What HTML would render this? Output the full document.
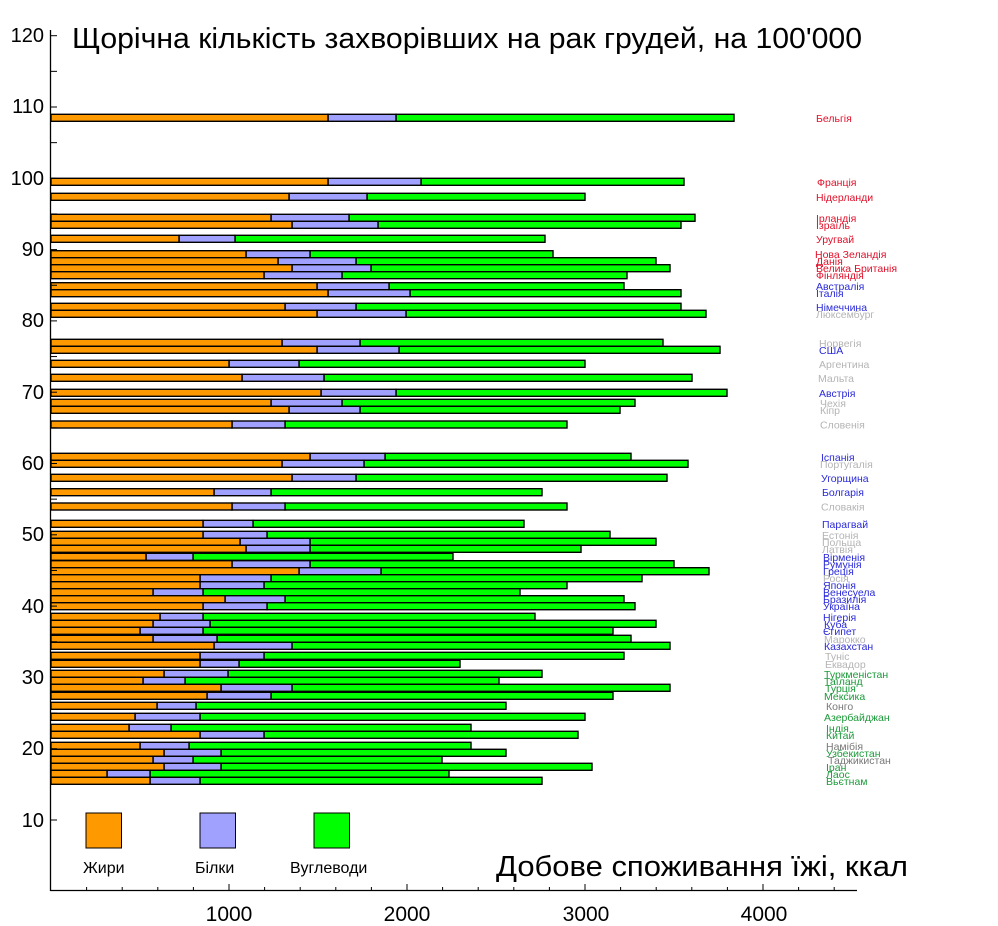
<!DOCTYPE html>
<html><head><meta charset="utf-8"><style>
html,body{margin:0;padding:0;background:#fff;}
svg{display:block;}
text{font-family:"Liberation Sans","DejaVu Sans",sans-serif;}
</style></head><body>
<svg width="998" height="926" viewBox="0 0 998 926" xmlns="http://www.w3.org/2000/svg">
<rect width="998" height="926" fill="#fff"/>
<g id="bars" stroke="#000" stroke-width="1.4"></g>
<g id="labels" font-size="10.5"></g>
<g stroke="#000" stroke-width="1.3">
<line x1="50.5" y1="30" x2="50.5" y2="891"/>
<line x1="50" y1="890.5" x2="857" y2="890.5"/>
</g>
<g id="ticks" stroke="#000" stroke-width="1"></g>
<g font-size="20" fill="#000" text-anchor="end">
<text x="44" y="42">120</text><text x="44" y="113">110</text><text x="44" y="185">100</text>
<text x="44" y="256">90</text><text x="44" y="327">80</text><text x="44" y="399">70</text>
<text x="44" y="470">60</text><text x="44" y="541">50</text><text x="44" y="613">40</text>
<text x="44" y="684">30</text><text x="44" y="755">20</text><text x="44" y="827">10</text>
</g>
<g font-size="21" fill="#000" text-anchor="middle">
<text x="229" y="921">1000</text><text x="407" y="921">2000</text><text x="586" y="921">3000</text><text x="764" y="921">4000</text>
</g>
<text x="72" y="48" font-size="29" textLength="790" lengthAdjust="spacingAndGlyphs">Щорічна кількість захворівших на рак грудей, на 100'000</text>
<text x="496" y="876" font-size="29" textLength="412" lengthAdjust="spacingAndGlyphs">Добове споживання їжі, ккал</text>
<rect x="86" y="813" width="35.5" height="35" fill="#ff9900" stroke="#000"/>
<rect x="200" y="813" width="35.5" height="35" fill="#a0a0ff" stroke="#000"/>
<rect x="314" y="813" width="35.5" height="35" fill="#00ff00" stroke="#000"/>
<g font-size="16" fill="#000">
<text x="83" y="873">Жири</text><text x="195" y="873">Білки</text><text x="290" y="873">Вуглеводи</text>
</g>
</svg>
<script>
var R="#e0102a",B="#2a2ad8",G="#b4b4b4",N="#1c9a3a",D="#787878";
var d=[
["Бельгія",114.3,328,396,734,R,816],
["Франція",178.3,328,421,684,R,817],
["Нідерланди",193.3,289,367,585,R,816],
["Ірландія",214.3,271,349,695,R,816],
["Ізраїль",221.3,292,378,681,R,816],
["Уругвай",235.3,179,235,545,R,816],
["Нова Зеландія",250.7,246,310,553,R,815],
["Данія",257.7,278,356,656,R,816],
["Велика Британія",264.7,292,371,670,R,816],
["Фінляндія",271.7,264,342,627,R,816],
["Австралія",282.7,317,389,624,B,816],
["Італія",289.7,328,410,681,B,816],
["Німеччина",303.3,285,356,681,B,816],
["Люксембург",310.3,317,406,706,G,816],
["Норвегія",339.3,282,360,663,G,819],
["США",346.3,317,399,720,B,819],
["Аргентина",360.3,229,299,585,G,819],
["Мальта",374.3,242,324,692,G,818],
["Австрія",389.3,321,396,727,B,819],
["Чехія",399.3,271,342,635,G,820],
["Кіпр",406.3,289,360,620,G,820],
["Словенія",421,232,285,567,G,820],
["Іспанія",453.3,310,385,631,B,821],
["Португалія",460.3,282,364,688,G,820],
["Угорщина",474.3,292,356,667,B,821],
["Болгарія",488.7,214,271,542,B,822],
["Словакія",503,232,285,567,G,821],
["Парагвай",520.3,203,253,524,B,822],
["Естонія",531.3,203,267,610,G,822],
["Польща",538.3,240,310,656,G,822],
["Латвія",545.3,246,310,581,G,822],
["Вірменія",553.3,146,193,453,B,823],
["Румунія",560.7,232,310,674,B,823],
["Греція",567.7,299,381,709,B,823],
["Росія",574.7,200,271,642,G,823],
["Японія",581.7,200,264,567,B,823],
["Венесуела",588.7,153,203,520,B,823],
["Бразилія",595.7,225,285,624,B,823],
["Україна",602.7,203,267,635,B,823],
["Нігерія",613.3,160,203,535,B,823],
["Куба",620.3,153,210,656,B,824],
["Єгипет",627.3,140,203,613,B,823],
["Марокко",635.3,153,217,631,G,824],
["Казахстан",642.3,214,292,670,B,824],
["Туніс",652.3,200,264,624,G,825],
["Еквадор",660.3,200,239,460,G,825],
["Туркменістан",670.3,164,228,542,N,824],
["Таїланд",677.3,143,185,499,N,824],
["Турція",684.3,221,292,670,N,825],
["Мексика",692.3,207,271,613,N,824],
["Конго",702.3,157,196,506,D,826],
["Азербайджан",713.3,135,200,585,N,824],
["Індія",724.3,129,171,471,N,826],
["Китай",731.3,200,264,578,N,826],
["Намібія",742.3,140,189,471,D,826],
["Узбекистан",749.3,164,221,506,N,826],
["Таджикистан",756.3,153,193,442,D,828],
["Іран",763.3,164,221,592,N,826],
["Лаос",770.3,107,150,449,N,826],
["Вьєтнам",777.3,150,200,542,N,826]];
var ns="http://www.w3.org/2000/svg";
var bg=document.getElementById("bars"),lg=document.getElementById("labels"),tg=document.getElementById("ticks");
function el(p,t,a){var e=document.createElementNS(ns,t);for(var k in a)e.setAttribute(k,a[k]);p.appendChild(e);return e;}
d.forEach(function(r){
var y=r[1];
el(bg,"rect",{x:r[3],y:y,width:r[4]-r[3],height:7,fill:"#00ff00"});
el(bg,"rect",{x:r[2],y:y,width:r[3]-r[2],height:7,fill:"#a0a0ff"});
el(bg,"rect",{x:51,y:y,width:r[2]-51,height:7,fill:"#ff9900"});
var t=el(lg,"text",{x:r[6],y:y+7.5,fill:r[5]});t.textContent=r[0];
});
for(var v=10;v<=120;v+=5){var yy=35.7+(120-v)*7.13;el(tg,"line",{x1:50,y1:yy,x2:57,y2:yy});}
for(var k=1;k<=22;k++){var xx=51+k*35.6;var h=(k%5==0)?6:3;el(tg,"line",{x1:xx,y1:890,x2:xx,y2:890-h});}
</script>
</body></html>
